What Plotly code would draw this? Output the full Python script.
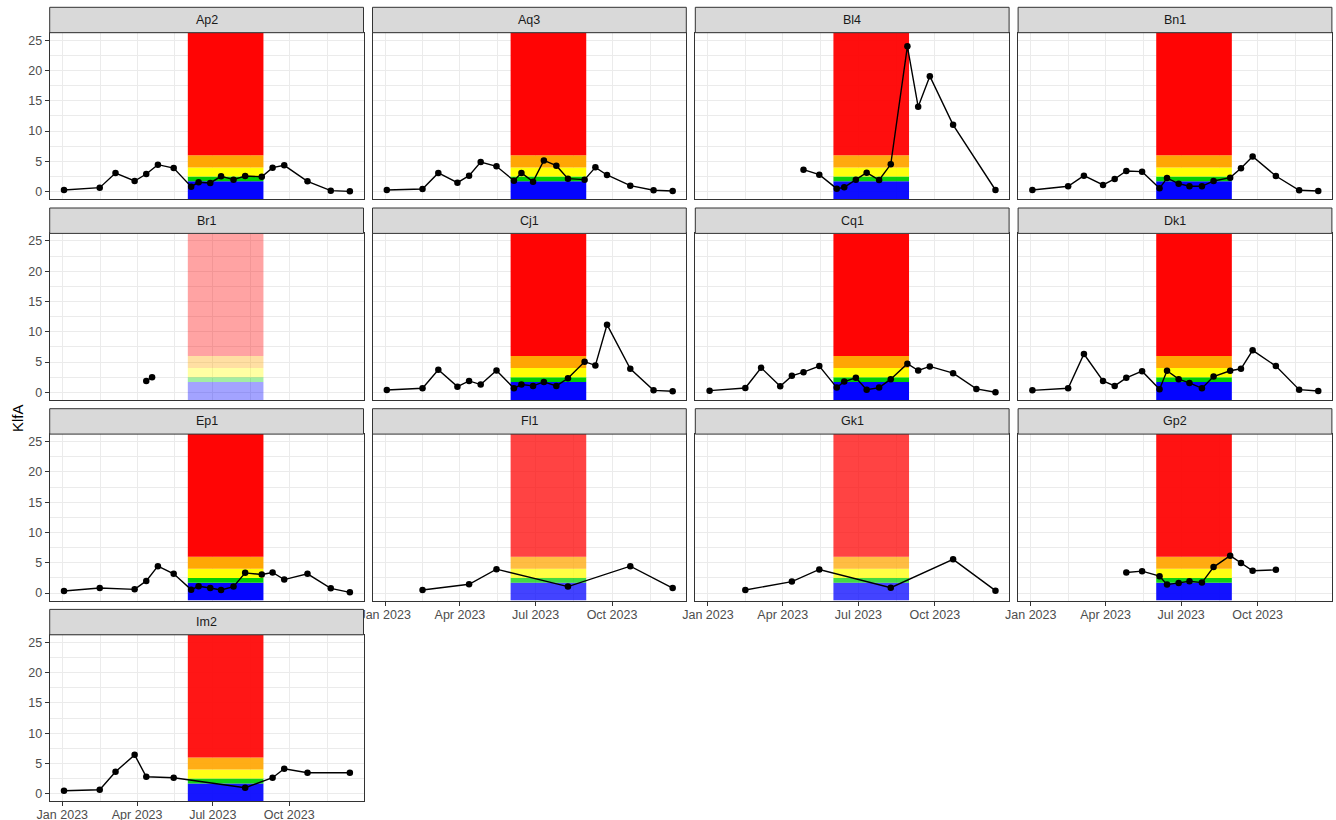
import pandas as pd
import plotly.graph_objects as go

# ---- sampling data -------------------------------------------------------
sample_dates = ['2023-01-03', '2023-02-15', '2023-03-06', '2023-03-29', '2023-04-12',
                '2023-04-19', '2023-04-26', '2023-05-15', '2023-06-05', '2023-06-14',
                '2023-06-28', '2023-07-11', '2023-07-26', '2023-08-09', '2023-08-29',
                '2023-09-11', '2023-09-25', '2023-10-23', '2023-11-20', '2023-12-13']

sites = ['Ap2', 'Aq3', 'Bl4', 'Bn1', 'Br1', 'Cj1', 'Cq1', 'Dk1', 'Ep1', 'Fl1', 'Gk1', 'Gp2', 'Im2']

N = None  # not sampled on that date
klfa_ap2 = [0.27, 0.66, 3.08, 1.76, 2.91, N, 4.45, 3.90, 0.82, 1.54, 1.43, 2.53, 1.98, 2.58, 2.47, 3.96, 4.34, 1.70, 0.16, 0.05]
klfa_aq3 = [0.27, 0.44, 3.08, 1.48, 2.64, N, 4.89, 4.18, 1.81, 3.08, 1.65, 5.16, 4.29, 2.14, 1.98, 4.01, 2.75, 0.99, 0.22, 0.11]
klfa_bl4 = [N, N, N, N, N, N, 3.63, 2.80, 0.49, 0.71, 1.98, 3.13, 1.92, 4.51, 24.0, 14.0, 19.07, 11.04, N, 0.27]
klfa_bn1 = [0.27, 0.88, 2.64, 1.10, 2.09, N, 3.41, 3.30, 0.55, 2.25, 1.32, 0.88, 0.88, 1.76, 2.31, 3.85, 5.82, 2.58, 0.22, 0.11]
klfa_br1 = [N, N, N, N, 1.89, 2.50, N, N, N, N, N, N, N, N, N, N, N, N, N, N]
klfa_cj1 = [0.39, 0.67, 3.72, 0.94, 1.89, N, 1.28, 3.61, 0.67, 1.28, 1.06, 1.72, 1.06, 2.33, 5.06, 4.44, 11.17, 3.89, 0.33, 0.17]
klfa_cq1 = [0.28, 0.72, 4.06, 1.00, 2.72, N, 3.33, 4.33, 0.78, 1.78, 2.39, 0.44, 0.78, 2.17, 4.72, 3.61, 4.28, 3.17, 0.56, 0.02]
klfa_dk1 = [0.33, 0.67, 6.33, 1.89, 1.06, N, 2.39, 3.50, 0.50, 3.56, 2.17, 1.56, 0.67, 2.61, 3.56, 3.89, 6.94, 4.33, 0.44, 0.22]
klfa_ep1 = [0.33, 0.83, N, 0.61, 2.00, N, 4.44, 3.17, 0.56, 1.11, 0.83, 0.50, 1.06, 3.33, 3.06, 3.39, 2.22, 3.17, 0.78, 0.11]
klfa_fl1 = [N, 0.50, N, N, 1.44, N, N, 3.94, N, N, N, N, N, 1.06, N, N, N, 4.44, N, 0.83]
klfa_gk1 = [N, 0.50, N, N, 1.89, N, N, 3.89, N, N, N, N, N, 0.89, N, N, N, 5.56, N, 0.39]
klfa_gp2 = [N, N, N, N, N, N, 3.39, 3.61, 2.78, 1.39, 1.67, 1.94, 1.72, 4.28, 6.17, 4.94, 3.67, 3.83, N, N]
klfa_im2 = [0.50, 0.66, 3.62, 6.42, 2.80, N, N, 2.64, N, N, N, N, N, 0.99, N, 2.64, 4.12, 3.46, N, 3.46]

klfa_series = [klfa_ap2, klfa_aq3, klfa_bl4, klfa_bn1, klfa_br1, klfa_cj1, klfa_cq1,
               klfa_dk1, klfa_ep1, klfa_fl1, klfa_gk1, klfa_gp2, klfa_im2]

# summer assessment window and KlfA class limits
season_start = '2023-06-01'
season_end = '2023-08-31'
class_limits = [1.7, 2.5, 4.0, 6.0]
class_colors = ['#0000FF', '#00CD00', '#FFFF00', '#FFA500', '#FF0000']
band_alpha = 0.2  # alpha of one class rectangle, drawn once per sample row

month_ticks = ['2023-01-01', '2023-04-01', '2023-07-01', '2023-10-01']
month_labels = ['Jan 2023', 'Apr 2023', 'Jul 2023', 'Oct 2023']
month_minor = ['2023-02-15 12:00', '2023-05-16 12:00', '2023-08-16', '2023-11-16']
y_ticks = [0, 5, 10, 15, 20, 25]
y_minor = [2.5, 7.5, 12.5, 17.5, 22.5]

# ---- page geometry (pixels) ---------------------------------------------
W, H = 1336, 820
NCOL = 4
PANEL_LEFT0, COL_STEP, PANEL_W = 49.7, 322.8, 313.8
PANEL_TOP0, ROW_STEP, PANEL_H = 32.7, 200.7, 166.5
STRIP_H = 25.4

jan1 = pd.Timestamp('2023-01-01')
x_range = [jan1 - pd.Timedelta(days=15.2), jan1 + pd.Timedelta(days=362.4)]
y_range = [-1.25, 26.25]

FONT = 'Liberation Sans, Arial, sans-serif'
GRID = '#EBEBEB'
FRAME = '#333333'

fig = go.Figure()
layout = {}
shapes = []
annotations = []

for i, (site, vals) in enumerate(zip(sites, klfa_series)):
    r, c = divmod(i, NCOL)
    k = i + 1
    sfx = '' if k == 1 else str(k)
    left = PANEL_LEFT0 + c * COL_STEP
    top = PANEL_TOP0 + r * ROW_STEP
    is_bottom = i + NCOL >= len(sites)
    is_left = c == 0

    layout['xaxis' + sfx] = dict(
        domain=[left / W, (left + PANEL_W) / W], anchor='y' + sfx, type='date',
        range=x_range, tickmode='array', tickvals=month_ticks, ticktext=month_labels,
        showticklabels=is_bottom, ticks='outside' if is_bottom else '',
        ticklen=4, tickwidth=1, tickcolor=FRAME, ticklabelstandoff=-2,
        tickfont=dict(family=FONT, size=12.5, color='#4D4D4D'),
        showgrid=True, gridcolor=GRID, gridwidth=1.1,
        minor=dict(tickmode='array', tickvals=month_minor, showgrid=True,
                   gridcolor=GRID, gridwidth=0.6, ticks=''),
        showline=True, mirror=True, linecolor=FRAME, linewidth=1,
        zeroline=False, automargin=False, fixedrange=True,
    )
    layout['yaxis' + sfx] = dict(
        domain=[1 - (top + PANEL_H) / H, 1 - top / H], anchor='x' + sfx,
        range=y_range, tickmode='array', tickvals=y_ticks,
        showticklabels=is_left, ticks='outside' if is_left else '',
        ticklen=4, tickwidth=1, tickcolor=FRAME,
        tickfont=dict(family=FONT, size=12.5, color='#4D4D4D'),
        showgrid=True, gridcolor=GRID, gridwidth=1.1,
        minor=dict(tickmode='array', tickvals=y_minor, showgrid=True,
                   gridcolor=GRID, gridwidth=0.6, ticks=''),
        showline=True, mirror=True, linecolor=FRAME, linewidth=1,
        zeroline=False, automargin=False, fixedrange=True,
    )

    # class bands: each sample row adds one translucent copy of every band
    n_rows = sum(v is not None for v in vals)
    band_opacity = 1 - (1 - band_alpha) ** n_rows
    bounds = [y_range[0]] + class_limits + [y_range[1]]
    for j, col in enumerate(class_colors):
        shapes.append(dict(
            type='rect', xref='x' + sfx, yref='y' + sfx,
            x0=season_start, x1=season_end, y0=bounds[j], y1=bounds[j + 1],
            fillcolor=col, opacity=band_opacity, line=dict(width=0), layer='between',
        ))

    # facet strip
    shapes.append(dict(
        type='rect', xref='paper', yref='paper',
        x0=left / W, x1=(left + PANEL_W) / W,
        y0=1 - top / H, y1=1 - (top - STRIP_H) / H,
        fillcolor='#D9D9D9', line=dict(color=FRAME, width=1), layer='above',
    ))
    annotations.append(dict(
        text=site, xref='paper', yref='paper',
        x=(left + PANEL_W / 2) / W, y=1 - (top - STRIP_H / 2) / H,
        showarrow=False, xanchor='center', yanchor='middle',
        font=dict(family=FONT, size=12.5, color='#1A1A1A'),
    ))

    fig.add_trace(go.Scatter(
        x=sample_dates, y=vals, mode='lines+markers', connectgaps=True,
        line=dict(color='black', width=1.4),
        marker=dict(color='black', size=6.5),
        xaxis='x' + sfx, yaxis='y' + sfx, showlegend=False, hoverinfo='x+y',
    ))

annotations.append(dict(
    text='KlfA', xref='paper', yref='paper', x=17 / W, y=1 - 418 / H,
    showarrow=False, textangle=-90, xanchor='center', yanchor='middle',
    font=dict(family=FONT, size=15, color='black'),
))

fig.update_layout(
    template='none', width=W, height=H, autosize=False,
    margin=dict(l=0, r=0, t=0, b=0, pad=0),
    paper_bgcolor='white', plot_bgcolor='white',
    shapes=shapes, annotations=annotations, showlegend=False,
    **layout,
)

fig.write_html('out.html')
